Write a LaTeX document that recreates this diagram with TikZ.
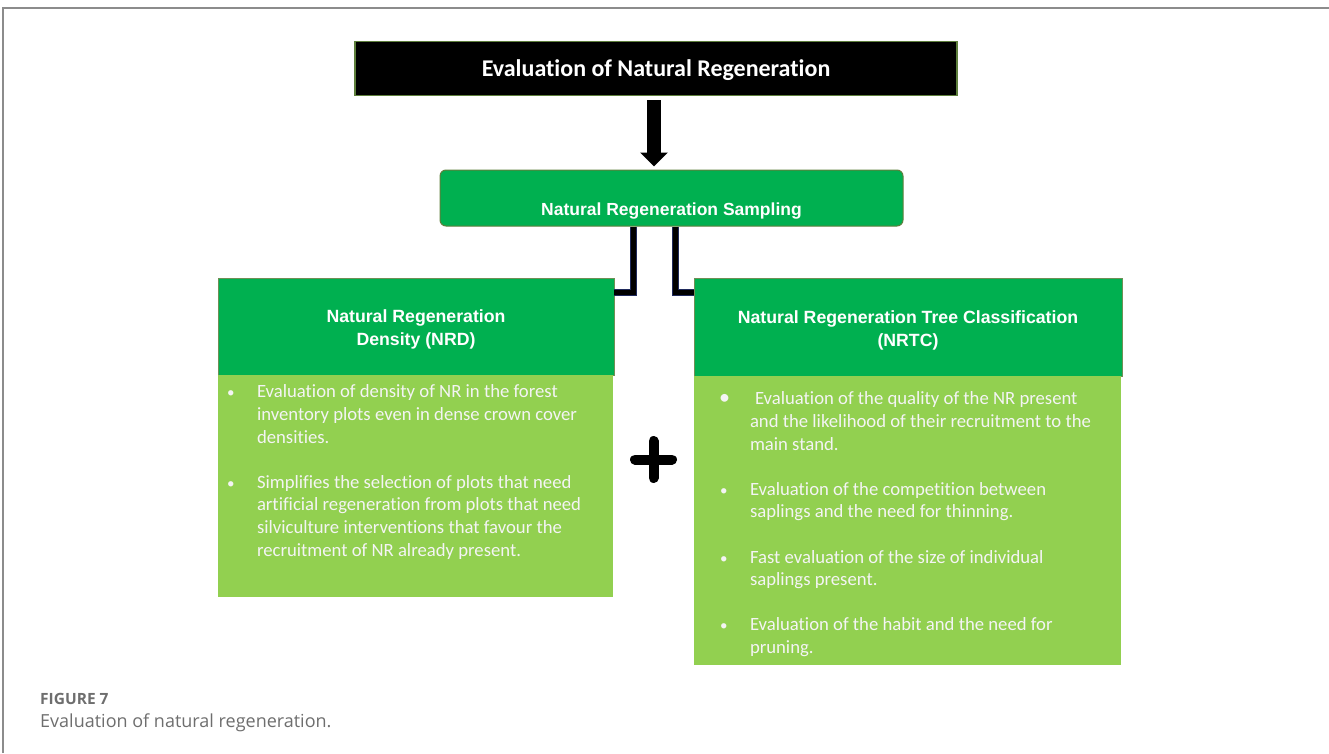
\documentclass[tikz,border=0pt]{standalone}
\usepackage{fontspec}
\setmainfont[Ligatures=NoCommon]{Carlito}
\newfontfamily\headfont{Liberation Sans}
\newfontfamily\capfont{Open Sans}
\usetikzlibrary{arrows.meta,calc}

\definecolor{hdgreen}{HTML}{00B050}
\definecolor{bdgreen}{HTML}{92D050}
\definecolor{olive}{HTML}{5E7F3C}
\definecolor{headedge}{HTML}{6F8F55}
\definecolor{bodywhite}{HTML}{F4F4F4}
\definecolor{linknavy}{HTML}{1F2A5C}
\definecolor{framegray}{HTML}{8C8C8C}
\definecolor{capgray}{HTML}{6E6E6E}

\newcommand{\bul}{\makebox[31pt][l]{\hspace{1pt}{\fontsize{15}{15}\selectfont\textbullet}}}
\newcommand{\bigbul}{\makebox[31pt][l]{{\fontsize{22}{22}\selectfont\textbullet}}}
\newcommand{\ind}{\hspace*{31pt}}
\newcommand{\headstrut}{\rule{0pt}{19pt}}

\begin{document}
\begin{tikzpicture}[x=1pt,y=-1pt,
  frameline/.style={draw=framegray,line width=2pt},
  titlebox/.style={fill=black,draw=olive,line width=1.2pt,minimum width=602pt,
    minimum height=54pt,text=white,inner sep=0pt,text height=16.4pt,text depth=0pt,
    font=\bfseries\fontsize{24}{28}\selectfont},
  sampbox/.style={fill=hdgreen,draw=olive,line width=1pt,rounded corners=6pt,
    minimum width=463pt,minimum height=56pt,text=white,inner sep=0pt,
    font=\headfont\bfseries\fontsize{17.5}{21}\selectfont},
  headbox/.style={fill=hdgreen,draw=headedge,line width=0.8pt,minimum height=97pt,
    text=white,align=center,inner sep=0pt,
    font=\headfont\bfseries\fontsize{17.7}{23}\selectfont},
  bodybox/.style={fill=bdgreen,draw=none,inner sep=0pt},
  bodytext/.style={text=bodywhite,font=\fontsize{18.7}{22.6}\selectfont,
    align=left,inner sep=0pt,anchor=north west},
  elbow/.style={draw=linknavy,line width=0.9pt,double=black,double distance=5.5pt},
  fatarrow/.style={draw=black,line width=14pt,-{Triangle[width=27pt,length=14pt]}},
  plussign/.style={draw=black,line width=10pt,line cap=round},
]
\useasboundingbox (0,0) rectangle (1329,753);

% page frame
\draw[frameline] (3,753) -- (3,7.5) -- (1329,7.5);

% top title and sampling step
\node[titlebox] (title) at (656,68.5) {Evaluation of Natural Regeneration};
\node[sampbox] (samp) at (671.5,198)
  {\raisebox{-17pt}[0pt][0pt]{Natural Regeneration Sampling}};

% left column: NRD
\node[headbox,minimum width=396pt] (nrdhead) at (416,326.5)
  {\headstrut Natural Regeneration\\Density (NRD)};
\node[bodybox,minimum width=395pt,minimum height=222pt] (nrdbody) at (415.5,486) {};
\node[bodytext] (nrdtext) at ($(nrdbody.north west)+(8,10)$)
  {\bul Evaluation of density of NR in the forest\\
   \ind inventory plots even in dense crown cover\\
   \ind densities.\\[22.6pt]
   \bul Simplifies the selection of plots that need\\
   \ind artificial regeneration from plots that need\\
   \ind silviculture interventions that favour the\\
   \ind recruitment of NR already present.};

% right column: NRTC
\node[headbox,minimum width=428pt,minimum height=98pt] (nrtchead) at (908,327)
  {\headstrut Natural Regeneration Tree Classification\\(NRTC)};
\node[bodybox,minimum width=427pt,minimum height=289pt] (nrtcbody) at (907.5,520.5) {};
\node[bodytext] (nrtctext) at ($(nrtcbody.north west)+(25,16)$)
  {\bigbul\hspace{5pt}Evaluation of the quality of the NR present\\
   \ind and the likelihood of their recruitment to the\\
   \ind main stand.\\[22.6pt]
   \bul Evaluation of the competition between\\
   \ind saplings and the need for thinning.\\[22.6pt]
   \bul Fast evaluation of the size of individual\\
   \ind saplings present.\\[22.6pt]
   \bul Evaluation of the habit and the need for\\
   \ind pruning.};

% connectors
\coordinate (ax) at (654,0);
\coordinate (lx) at (633.5,0);
\coordinate (rx) at (675.5,0);
\draw[fatarrow] ($(title.south -| ax)+(0,4)$) -- ($(samp.north -| ax)+(0,-3)$);
\draw[elbow] (samp.south -| lx) |- ($(nrdhead.north east)+(0,15)$);
\draw[elbow] (samp.south -| rx) |- ($(nrtchead.north west)+(0,15)$);

% plus sign between the columns
\draw[plussign] (635,459.5) -- (672,459.5);
\draw[plussign] (653.5,441) -- (653.5,478);

% caption
\node[anchor=base west,inner sep=0pt,text=capgray,
  font=\capfont\bfseries\fontsize{15.5}{18}\selectfont] (figlabel) at (40,704.5) {FIGURE 7};
\node[anchor=base west,inner sep=0pt,text=capgray,
  font=\capfont\fontsize{18}{22}\selectfont] (caption) at (40,727)
  {Evaluation of natural regeneration.};
\end{tikzpicture}
\end{document}
